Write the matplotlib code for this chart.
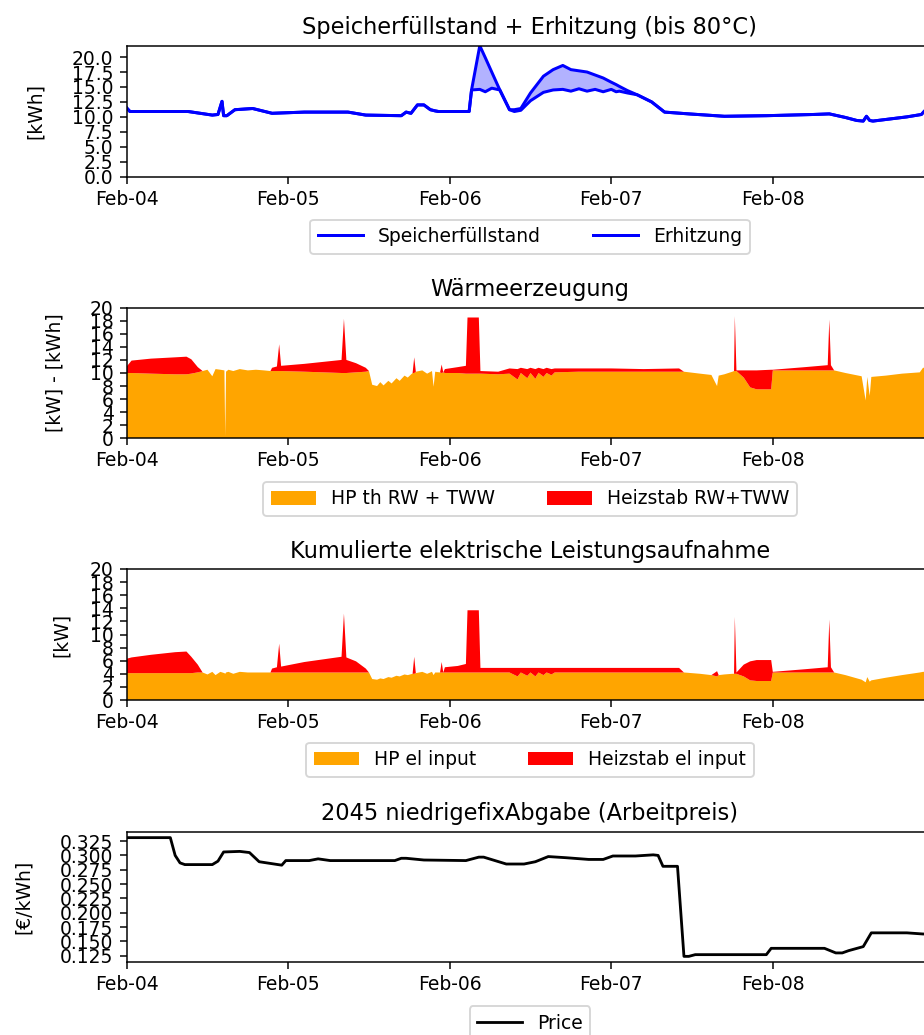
import numpy as np
import pandas as pd
import matplotlib
matplotlib.use("Agg")
import matplotlib.pyplot as plt
import matplotlib.dates as mdates

START = pd.Timestamp("2045-02-04")

# --- Speicher (days after Feb-04 00:00) ---
st_days = [0.00, 0.02, 0.20, 0.38, 0.53, 0.565, 0.59, 0.60, 0.62, 0.67, 0.78, 0.90,
           1.10, 1.37, 1.48, 1.70, 1.73, 1.76, 1.80, 1.84, 1.88, 1.91, 1.93, 2.12,
           2.135, 2.186, 2.22, 2.26, 2.31, 2.37, 2.40, 2.44, 2.50, 2.58, 2.64, 2.70,
           2.75, 2.80, 2.85, 2.90, 2.95, 3.00, 3.03, 3.05, 3.10, 3.16, 3.25, 3.33,
           3.48, 3.70, 3.96, 4.25, 4.35, 4.45, 4.52, 4.56, 4.58, 4.60, 4.62, 4.83,
           4.92, 4.94, 5.00]
speicher = [11.5, 10.9, 10.9, 10.9, 10.3, 10.4, 12.6, 10.2, 10.2, 11.2, 11.4, 10.6,
            10.8, 10.8, 10.3, 10.2, 10.8, 10.6, 12.0, 12.0, 11.2, 11.0, 10.9, 10.9,
            14.5, 14.6, 14.2, 14.8, 14.5, 11.2, 10.9, 11.1, 12.7, 14.1, 14.5, 14.6,
            14.3, 14.7, 14.3, 14.6, 14.2, 14.6, 14.2, 14.3, 14.0, 13.7, 12.5, 10.8,
            10.5, 10.1, 10.2, 10.4, 10.5, 9.9, 9.4, 9.3, 10.1, 9.4, 9.3, 10.0,
            10.4, 11.0, 11.0]
erhitzung = [11.5, 10.9, 10.9, 10.9, 10.3, 10.4, 12.6, 10.2, 10.2, 11.2, 11.4, 10.6,
             10.8, 10.8, 10.3, 10.2, 10.8, 10.6, 12.0, 12.0, 11.2, 11.0, 10.9, 10.9,
             14.5, 21.9, 19.9, 17.5, 14.5, 11.2, 11.2, 11.4, 14.0, 16.8, 17.9, 18.6,
             17.9, 17.7, 17.5, 17.0, 16.5, 15.8, 15.4, 15.1, 14.4, 13.7, 12.5, 10.8,
             10.5, 10.1, 10.2, 10.4, 10.5, 9.9, 9.4, 9.3, 10.1, 9.4, 9.3, 10.0,
             10.4, 11.0, 11.0]

# --- Wärme / Strom (shared breakpoints) ---
gen_days = [0.00, 0.03, 0.15, 0.30, 0.37, 0.40, 0.44, 0.47, 0.50, 0.53, 0.55, 0.58,
            0.605, 0.61, 0.615, 0.63, 0.66, 0.70, 0.75, 0.80, 0.85, 0.89, 0.90, 0.93,
            0.944, 0.956, 1.10, 1.33, 1.345, 1.36, 1.42, 1.48, 1.50, 1.52, 1.55, 1.57,
            1.59, 1.62, 1.64, 1.67, 1.69, 1.72, 1.74, 1.77, 1.78, 1.79, 1.83, 1.86,
            1.89, 1.90, 1.91, 1.94, 1.95, 1.96, 1.97, 2.05, 2.10, 2.11, 2.18, 2.19,
            2.30, 2.37, 2.42, 2.44, 2.48, 2.50, 2.53, 2.55, 2.58, 2.60, 2.63, 2.65,
            2.80, 3.00, 3.20, 3.42, 3.45, 3.55, 3.62, 3.655, 3.665, 3.70, 3.75, 3.76,
            3.765, 3.775, 3.82, 3.86, 3.90, 3.99, 4.00, 4.20, 4.34, 4.35, 4.36, 4.38,
            4.45, 4.55, 4.575, 4.585, 4.60, 4.61, 4.70, 4.80, 4.91, 4.93, 5.00]
hp_th = [10.0, 10.0, 9.9, 9.8, 9.8, 9.9, 10.1, 10.3, 10.5, 9.5, 10.6, 10.5,
         10.4, 0.3, 10.2, 10.5, 10.3, 10.6, 10.4, 10.5, 10.4, 10.3, 10.3, 10.3,
         10.3, 10.3, 10.2, 10.0, 10.0, 10.0, 10.1, 10.2, 10.3, 8.2, 8.0, 8.6,
         8.1, 8.8, 8.4, 9.2, 8.8, 9.6, 9.3, 10.0, 10.0, 10.2, 10.4, 9.9,
         10.3, 7.9, 10.2, 10.1, 10.0, 10.1, 10.0, 10.0, 9.9, 9.9, 9.9, 9.9,
         9.8, 9.9, 9.0, 10.0, 9.2, 10.0, 9.1, 10.0, 9.4, 10.0, 9.6, 10.1,
         10.2, 10.2, 10.2, 10.2, 10.2, 9.9, 9.7, 8.0, 9.6, 9.8, 10.2, 10.3,
         10.3, 10.3, 9.3, 7.8, 7.5, 7.5, 10.4, 10.4, 10.4, 10.4, 10.4, 10.4,
         10.0, 9.5, 5.8, 9.4, 6.5, 9.4, 9.6, 9.9, 10.1, 10.8, 10.8]
hs_th = [1.0, 1.9, 2.3, 2.6, 2.7, 2.2, 0.8, 0, 0, 0, 0, 0,
         0, 0, 0, 0, 0, 0, 0, 0, 0, 0, 0.5, 0.7,
         4.1, 0.8, 1.2, 2.0, 8.3, 2.0, 1.4, 0.6, 0, 0, 0, 0,
         0, 0, 0, 0, 0, 0, 0, 0, 2.4, 0, 0, 0,
         0, 0, 0, 0, 1.3, 0, 0.6, 0.9, 1.2, 8.6, 8.6, 0.4,
         0.4, 0.8, 1.6, 0.8, 1.4, 0.8, 1.5, 0.8, 1.2, 0.8, 1.0, 0.6,
         0.5, 0.5, 0.4, 0.5, 0, 0, 0, 0, 0, 0, 0, 0,
         8.4, 0.1, 1.1, 2.6, 2.9, 3.0, 0.1, 0.5, 0.8, 7.8, 0.8, 0,
         0, 0, 0, 0, 0, 0, 0, 0, 0, 0, 0]
hp_el = [4.1, 4.1, 4.1, 4.1, 4.1, 4.1, 4.2, 4.2, 3.9, 4.3, 3.8, 4.3,
         4.1, 4.0, 4.2, 4.3, 4.0, 4.3, 4.2, 4.2, 4.2, 4.2, 4.2, 4.2,
         4.2, 4.2, 4.2, 4.2, 4.2, 4.2, 4.2, 4.2, 4.2, 3.2, 3.1, 3.3,
         3.2, 3.5, 3.4, 3.7, 3.6, 3.9, 3.8, 4.0, 4.0, 4.1, 4.3, 4.0,
         4.3, 3.8, 4.2, 4.2, 4.2, 4.2, 4.2, 4.2, 4.2, 4.2, 4.2, 4.2,
         4.2, 4.2, 3.6, 4.2, 3.7, 4.2, 3.6, 4.2, 3.8, 4.2, 3.9, 4.2,
         4.2, 4.2, 4.2, 4.2, 4.2, 4.0, 3.8, 3.6, 3.8, 3.9, 4.0, 4.0,
         4.0, 4.0, 3.6, 3.0, 2.9, 2.9, 4.2, 4.2, 4.2, 4.2, 4.2, 4.2,
         3.8, 3.1, 2.7, 3.5, 2.8, 3.0, 3.4, 3.8, 4.2, 4.3, 4.3]
hs_el = [2.2, 2.4, 2.8, 3.2, 3.3, 2.5, 1.2, 0, 0, 0, 0, 0,
         0, 0, 0, 0, 0, 0, 0, 0, 0, 0, 0.6, 0.8,
         4.4, 0.9, 1.6, 2.4, 9.0, 2.3, 1.7, 0.6, 0, 0, 0, 0,
         0, 0, 0, 0, 0, 0, 0, 0, 2.6, 0, 0, 0,
         0, 0, 0, 0, 1.6, 0, 0.8, 1.0, 1.3, 9.5, 9.5, 0.7,
         0.7, 0.7, 1.3, 0.7, 1.2, 0.7, 1.3, 0.7, 1.1, 0.7, 1.0, 0.7,
         0.7, 0.7, 0.7, 0.7, 0, 0, 0, 0.8, 0, 0, 0, 0,
         8.7, 0.2, 1.8, 2.9, 3.2, 3.2, 0.1, 0.5, 0.8, 8.1, 0.8, 0,
         0, 0, 0, 0, 0, 0, 0, 0, 0, 0, 0]

# --- Preis ---
p_days = [0.00, 0.27, 0.30, 0.33, 0.36, 0.53, 0.565, 0.60, 0.70, 0.76, 0.82, 0.89,
          0.96, 0.985, 1.13, 1.185, 1.26, 1.66, 1.70, 1.73, 1.84, 2.10, 2.18, 2.21,
          2.28, 2.35, 2.46, 2.53, 2.61, 2.72, 2.86, 2.95, 3.01, 3.15, 3.26, 3.29,
          3.32, 3.41, 3.45, 3.48, 3.52, 3.96, 3.99, 4.32, 4.39, 4.43, 4.47, 4.56,
          4.61, 4.83, 4.93, 5.00]
price = [0.331, 0.331, 0.300, 0.287, 0.284, 0.284, 0.290, 0.306, 0.307, 0.305, 0.289, 0.286,
         0.283, 0.291, 0.291, 0.294, 0.291, 0.291, 0.295, 0.295, 0.292, 0.291, 0.297, 0.297,
         0.291, 0.285, 0.285, 0.289, 0.298, 0.296, 0.293, 0.293, 0.299, 0.299, 0.301, 0.300,
         0.281, 0.281, 0.124, 0.124, 0.127, 0.127, 0.138, 0.138, 0.130, 0.130, 0.134, 0.141,
         0.165, 0.165, 0.163, 0.163]

yticks_st = [0, 2.5, 5, 7.5, 10, 12.5, 15, 17.5, 20]
yticks_kw = [0, 2, 4, 6, 8, 10, 12, 14, 16, 18, 20]
yticks_price = [0.125, 0.15, 0.175, 0.2, 0.225, 0.25, 0.275, 0.3, 0.325]
day_ticks = ["2045-02-04", "2045-02-05", "2045-02-06", "2045-02-07", "2045-02-08"]


def to_dt(days):
    return START + pd.to_timedelta(np.array(days), unit="D")


DPI = 135
fig = plt.figure(figsize=(924 / DPI, 1035 / DPI), dpi=DPI)

W, H = 924, 1035
left = 126.7 / W
width = 806 / W


def make_ax(top_px, bot_px):
    return fig.add_axes([left, 1 - bot_px / H, width, (bot_px - top_px) / H])


ax1 = make_ax(45.7, 176.7)
ax2 = make_ax(307.7, 438.3)
ax3 = make_ax(569, 700)
ax4 = make_ax(831.7, 962.3)

# Panel 1
t1 = to_dt(st_days)
ax1.plot(t1, speicher, color="blue", lw=1.6, label="Speicherfüllstand")
ax1.plot(t1, erhitzung, color="blue", lw=1.6, label="Erhitzung")
ax1.fill_between(t1, speicher, erhitzung, color="blue", alpha=0.3, lw=0)
ax1.set_ylim(0, 21.9)
ax1.set_yticks(yticks_st)
ax1.set_ylabel("[kWh]")
ax1.set_title("Speicherfüllstand + Erhitzung (bis 80°C)")

# Panel 2
tg = to_dt(gen_days)
ax2.stackplot(tg, hp_th, hs_th, colors=["orange", "red"],
              labels=["HP th RW + TWW", "Heizstab RW+TWW"])
ax2.set_ylim(0, 20)
ax2.set_yticks(yticks_kw)
ax2.set_ylabel("[kW] - [kWh]")
ax2.set_title("Wärmeerzeugung")

# Panel 3
ax3.stackplot(tg, hp_el, hs_el, colors=["orange", "red"],
              labels=["HP el input", "Heizstab el input"])
ax3.set_ylim(0, 20)
ax3.set_yticks(yticks_kw)
ax3.set_ylabel("[kW]")
ax3.set_title("Kumulierte elektrische Leistungsaufnahme")

# Panel 4
ax4.plot(to_dt(p_days), price, color="black", lw=1.5, label="Price")
ax4.set_yticks(yticks_price)
ax4.set_ylabel("[€/kWh]")
ax4.set_title("2045 niedrigefixAbgabe (Arbeitpreis)")

xmin = START
xmax = START + pd.Timedelta(days=4.99)
for ax in (ax1, ax2, ax3, ax4):
    ax.set_xlim(xmin, xmax)
    ax.set_xticks(pd.to_datetime(day_ticks))
    ax.xaxis.set_major_formatter(mdates.DateFormatter("%b-%d"))

ax1.yaxis.set_label_coords(-0.101, 0.5)
ax2.yaxis.set_label_coords(-0.077, 0.5)
ax3.yaxis.set_label_coords(-0.069, 0.5)
ax4.yaxis.set_label_coords(-0.116, 0.5)

cx = 530 / W
leg_kw = dict(bbox_transform=fig.transFigure, handlelength=2.4, columnspacing=2.8)
ax1.legend(loc="center", bbox_to_anchor=(cx, 1 - 236.5 / H), ncol=2, **leg_kw)
ax2.legend(loc="center", bbox_to_anchor=(cx, 1 - 499 / H), ncol=2, **leg_kw)
ax3.legend(loc="center", bbox_to_anchor=(cx, 1 - 759.5 / H), ncol=2, **leg_kw)
ax4.legend(loc="upper center", bbox_to_anchor=(cx, 1 - 997 / H), ncol=1, **leg_kw)

fig.savefig("out.png", dpi=DPI)
